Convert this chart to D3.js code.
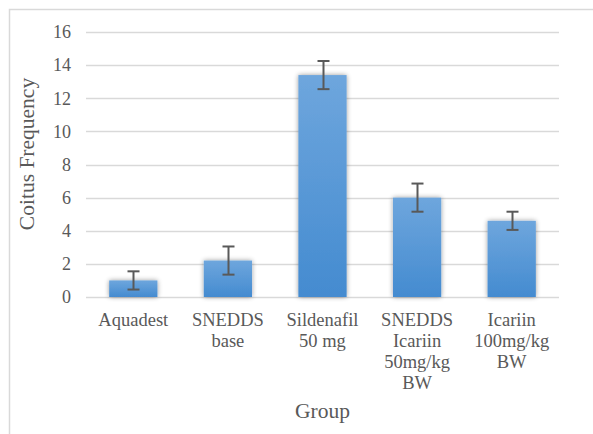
<!DOCTYPE html>
<html>
<head>
<meta charset="utf-8">
<script src="https://cdn.jsdelivr.net/npm/d3@7"></script>
<style>
  body { margin: 0; background: #fff; }
  svg { display: block; }
</style>
</head>
<body>
<div id="chart"></div>
<script>
const groups = [
  ['Aquadest'],
  ['SNEDDS', 'base'],
  ['Sildenafil', '50 mg'],
  ['SNEDDS', 'Icariin', '50mg/kg', 'BW'],
  ['Icariin', '100mg/kg', 'BW'],
]
const means = [1.0, 2.2, 13.4, 6.0, 4.6]
const errors = [0.55, 0.85, 0.85, 0.85, 0.55]
const yTicks = [0, 2, 4, 6, 8, 10, 12, 14, 16]

const width = 593
const height = 434
const margin = { top: 32, right: 34, bottom: 137, left: 86 }

const svg = d3.select('#chart').append('svg')
  .attr('width', width)
  .attr('height', height)
  .style('font-family', '"Liberation Serif", "Times New Roman", serif')

// chart frame (only top/left visible in the crop)
svg.append('path')
  .attr('d', `M9.5,${height} V9.5 H${width}`)
  .attr('fill', 'none')
  .attr('stroke', '#d9d9d9')
  .attr('stroke-width', 1.5)

const defs = svg.append('defs')
const grad = defs.append('linearGradient')
  .attr('id', 'barGrad').attr('x1', 0).attr('x2', 0).attr('y1', 0).attr('y2', 1)
grad.append('stop').attr('offset', '0%').attr('stop-color', '#6ea6dd')
grad.append('stop').attr('offset', '100%').attr('stop-color', '#448bd0')

const shadow = defs.append('filter').attr('id', 'shadow')
  .attr('x', '-30%').attr('y', '-30%').attr('width', '160%').attr('height', '160%')
shadow.append('feGaussianBlur').attr('in', 'SourceAlpha').attr('stdDeviation', 2.5).attr('result', 'blur')
shadow.append('feComponentTransfer').attr('in', 'blur').attr('result', 'soft')
  .append('feFuncA').attr('type', 'linear').attr('slope', 0.4)
const merge = shadow.append('feMerge')
merge.append('feMergeNode').attr('in', 'soft')
merge.append('feMergeNode').attr('in', 'SourceGraphic')

const x = d3.scaleBand()
  .domain(d3.range(groups.length))
  .range([margin.left, width - margin.right])
  .paddingInner(0.49)
  .paddingOuter(0.245)

const y = d3.scaleLinear()
  .domain([0, 16])
  .range([height - margin.bottom, margin.top])

// gridlines
svg.append('g')
  .selectAll('line')
  .data(yTicks)
  .join('line')
  .attr('x1', margin.left)
  .attr('x2', width - margin.right)
  .attr('y1', (d) => Math.round(y(d)) + 0.5)
  .attr('y2', (d) => Math.round(y(d)) + 0.5)
  .attr('stroke', '#d9d9d9')
  .attr('stroke-width', 1.5)

// y tick labels
svg.append('g')
  .selectAll('text')
  .data(yTicks)
  .join('text')
  .attr('x', 71)
  .attr('y', (d) => y(d))
  .attr('dy', '0.35em')
  .attr('text-anchor', 'end')
  .attr('font-size', 18)
  .attr('fill', '#595959')
  .text((d) => d)

// bars
svg.append('g')
  .selectAll('rect')
  .data(means)
  .join('rect')
  .attr('x', (d, i) => x(i))
  .attr('width', x.bandwidth())
  .attr('y', (d) => y(d))
  .attr('height', (d) => y(0) - y(d))
  .attr('fill', 'url(#barGrad)')
  .attr('filter', 'url(#shadow)')

// error bars
const eb = svg.append('g')
  .attr('stroke', '#595959')
  .attr('stroke-width', 2)
means.forEach((m, i) => {
  const cx = Math.round(x(i) + x.bandwidth() / 2) + 0.5
  const top = y(m + errors[i])
  const bot = y(m - errors[i])
  eb.append('line').attr('x1', cx).attr('x2', cx).attr('y1', top).attr('y2', bot)
  eb.append('line').attr('x1', cx - 6).attr('x2', cx + 6).attr('y1', top).attr('y2', top)
  eb.append('line').attr('x1', cx - 6).attr('x2', cx + 6).attr('y1', bot).attr('y2', bot)
})

// category labels
const cat = svg.append('g')
  .attr('font-size', 18.5)
  .attr('fill', '#595959')
  .attr('text-anchor', 'middle')
groups.forEach((lines, i) => {
  const t = cat.append('text')
    .attr('x', x(i) + x.bandwidth() / 2)
    .attr('y', 326)
  lines.forEach((ln, j) => {
    t.append('tspan')
      .attr('x', x(i) + x.bandwidth() / 2)
      .attr('dy', j === 0 ? 0 : 21)
      .text(ln)
  })
})

// axis titles
svg.append('text')
  .attr('x', (margin.left + width - margin.right) / 2)
  .attr('y', 418)
  .attr('text-anchor', 'middle')
  .attr('font-size', 21.5)
  .attr('fill', '#595959')
  .text('Group')

svg.append('text')
  .attr('transform', 'translate(34,154) rotate(-90)')
  .attr('text-anchor', 'middle')
  .attr('font-size', 21.5)
  .attr('fill', '#595959')
  .text('Coitus Frequency')
</script>
</body>
</html>
